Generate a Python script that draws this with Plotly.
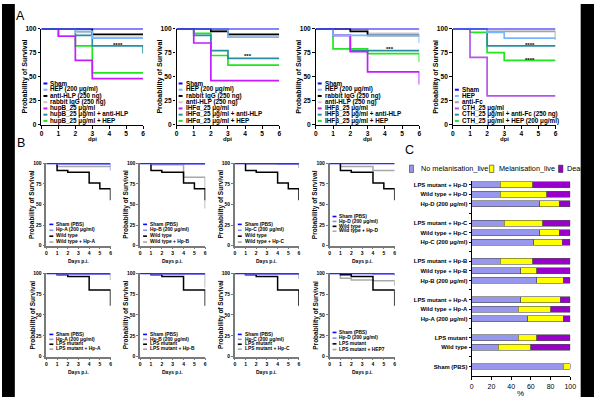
import plotly.graph_objects as go

W, H = 600, 400
FONT = "Liberation Sans, Arial, sans-serif"

# ================= DATA =================
# ---- Panel A : probability of survival (%) vs dpi (step curves) ----
A1_labels = ["Sham", "HEP (200 μg/ml)", "anti-HLP (250 ng)", "rabbit IgG (250 ng)",
             "hupB_25 μg/ml", "hupB_25 μg/ml + anti-HLP", "hupB_25 μg/ml + HEP"]
A1_days = [[0, 6], [0, 2, 3, 6], [0, 3, 6], [0, 2, 3, 6], [0, 1, 2, 3, 6], [0, 2, 3, 6, 6], [0, 1, 2, 3, 6]]
A1_surv = [[100, 100], [100, 97, 90, 90], [100, 94, 94], [100, 96, 91, 91],
           [100, 92, 67, 48, 48], [100, 93, 82, 82, 74], [100, 92, 82, 54, 54]]

A2_labels = ["Sham", "HEP (200 μg/ml)", "rabbit IgG (250 ng)", "anti-HLP (250 ng)",
             "IHFα_25 μg/ml", "IHFα_25 μg/ml + anti-HLP", "IHFα_25 μg/ml + HEP"]
A2_days = [[0, 6], [0, 3, 6], [0, 2, 3, 6], [0, 2, 3, 6], [0, 1, 2, 6], [0, 1, 2, 3, 6], [0, 1, 2, 3, 6]]
A2_surv = [[100, 100], [100, 91, 91], [100, 97, 94, 94], [100, 98, 92, 92],
           [100, 85, 46, 46], [100, 93, 77, 69, 69], [100, 95, 72, 62, 62]]

A3_labels = ["Sham", "HEP (200 μg/ml)", "rabbit IgG (250 ng)", "anti-HLP (250 ng)",
             "IHFβ_25 μg/ml", "IHFβ_25 μg/ml + anti-HLP", "IHFβ_25 μg/ml + HEP"]
A3_days = [[0, 6], [0, 1, 6, 6], [0, 2, 3, 6], [0, 2, 3, 6], [0, 1, 2, 3, 6, 6], [0, 1, 2, 6], [0, 1, 3, 6, 6]]
A3_surv = [[100, 100], [100, 93, 93, 85], [100, 97, 93, 93], [100, 99, 95, 95],
           [100, 93, 76, 55, 55, 42], [100, 93, 77, 77], [100, 79, 74, 74, 65]]

A4_labels = ["Sham", "HEP", "anti-Fc", "CTH_25 μg/ml",
             "CTH_25 μg/ml + anti-Fc (250 ng)", "CTH_25 μg/ml + HEP (200 μg/ml)"]
A4_days = [[0, 6], [0, 2, 3, 6], [0, 2, 6, 6], [0, 1, 2, 6], [0, 2, 6], [0, 1, 2, 3, 6]]
A4_surv = [[100, 100], [100, 96, 90, 90], [100, 97, 97, 88], [100, 70, 30, 30],
           [100, 82, 82], [100, 96, 75, 67, 67]]

A_star_text = [["****"], ["***"], ["***"], ["****", "****"]]
A_star_x = [[4.5], [4.2], [4.3], [4.5, 4.5]]
A_star_y = [[83], [72], [79], [82.5, 67.5]]

# ---- Panel B : probability of survival (%) vs days p.i. ----
B_sham_days = [0, 6]
B_sham_surv = [100, 100]
B_wt_days = [0, 1, 2, 4, 5, 6, 6]
B_wt_surv = [100, 91, 89, 76, 69, 69, 55]
B_lps_days = [0, 1, 2, 4, 6, 6]
B_lps_surv = [100, 98, 96, 80, 80, 61]

B_hp_days = [[0, 1, 6, 6], [0, 1, 6], [0, 4, 6], [0, 6],
             [0, 1, 6], [0, 1, 6], [0, 1, 6], [0, 4, 6, 6]]
B_hp_surv = [[100, 99, 99, 91], [100, 99, 99], [100, 99, 99], [100, 100],
             [100, 99, 99], [100, 99, 99], [100, 99, 99], [100, 99, 99, 97]]
B_combo_days = [[0, 1, 6], [0, 1, 4, 6, 6], [0, 1, 6, 6], [0, 1, 4, 6],
                [0, 1, 6, 6], [0, 1, 6, 6], [0, 1, 6, 6], [0, 1, 2, 4, 6, 6]]
B_combo_surv = [[100, 96, 96], [100, 98, 83, 83, 45], [100, 99, 99, 94], [100, 96, 91, 91],
                [100, 99, 99, 92], [100, 99, 99, 83], [100, 99, 99, 93], [100, 94, 92, 91, 91, 85]]
B_hp_labels = ["Hp-A (200 μg/ml)", "Hp-B (200 μg/ml)", "Hp-C (200 μg/ml)", "Hp-D (200 μg/ml)",
               "Hp-A (200 μg/ml)", "Hp-B (200 μg/ml)", "Hp-C (200 μg/ml)", "Hp-D (200 μg/ml)"]
B_strain_labels = ["Wild type"] * 4 + ["LPS mutant"] * 4
B_combo_labels = ["Wild type + Hp-A", "Wild type + Hp-B", "Wild type + Hp-C", "Wild type + Hp-D",
                  "LPS mutant + Hp-A", "LPS mutant + Hp-B", "LPS mutant + Hp-C", "LPS mutant + HEP7"]

# ---- Panel C : outcome percentages (stacked horizontal bars) ----
C_groups = [["LPS mutant + Hp-D", "Wild type + Hp-D", "Hp-D (200 μg/ml)"],
            ["LPS mutant + Hp-C", "Wild type + Hp-C", "Hp-C (200 μg/ml)"],
            ["LPS mutant + Hp-B", "Wild type + Hp-B", "Hp-B (200 μg/ml)"],
            ["LPS mutant + Hp-A", "Wild type + Hp-A", "Hp-A (200 μg/ml)"],
            ["LPS mutant", "Wild type"],
            ["Sham (PBS)"]]
C_no_melanisation_live = [29, 29, 69, 33, 69, 63, 29, 50, 66, 50, 47, 57, 47, 27, 93]
C_melanisation_live = [33, 47, 20, 39, 20, 29, 33, 16, 27, 40, 33, 36, 19, 33, 7]
C_dead = [38, 24, 11, 28, 11, 8, 38, 34, 7, 10, 20, 7, 34, 40, 0]
C_series_names = ["No melanisation_live", "Melanisation_live", "Dead"]

# ================= STYLE / LAYOUT =================
BLUE, LBLUE, BLACK = "#0a0aff", "#7ab6ff", "#000000"
LGRAY, GRAY = "#c9c9c9", "#a3a3a3"
PURPLE, PURPLE2, TEAL, GREEN = "#c21cff", "#b455e6", "#2a8ea2", "#1fe61f"
BHP, BGRAY = "#8c8cff", "#a8a8a8"
C_COLORS = ["#9797ee", "#ffff00", "#9a00cc"]

fig = go.Figure()
layout = dict(width=W, height=H, margin=dict(l=0, r=0, t=0, b=0), autosize=False,
              paper_bgcolor="white", plot_bgcolor="white", showlegend=False,
              barmode="stack", font=dict(family=FONT, color="black"))
annotations, shapes = [], []


def ax_ids(i):
    return ("x" if i == 1 else f"x{i}"), ("y" if i == 1 else f"y{i}")


def ax_keys(i):
    return ("xaxis" if i == 1 else f"xaxis{i}"), ("yaxis" if i == 1 else f"yaxis{i}")


def txt(x, y, text, size, weight="bold", xanchor="center", yanchor="middle", angle=0,
        xref="paper", yref="paper", color="black"):
    annotations.append(dict(x=x, y=y, xref=xref, yref=yref, text=text, showarrow=False,
                            xanchor=xanchor, yanchor=yanchor, textangle=angle,
                            font=dict(family=FONT, size=size, weight=weight, color=color)))


def surv_panel(i, xpx, ypx, days, surv, colors, widths, labels, tick_size, lw_axis, axcol,
               ticklen, leg_x, leg_y0, leg_dy, leg_size, sym_len, sym_w, ytitle_dx,
               ytitle_size, xtitle, xtitle_y, xtitle_size):
    xa, ya = ax_ids(i)
    xk, yk = ax_keys(i)
    for d, s, c, w in reversed(list(zip(days, surv, colors, widths))):
        fig.add_trace(go.Scatter(x=d, y=s, mode="lines", xaxis=xa, yaxis=ya,
                                 line=dict(color=c, width=w, shape="hv"),
                                 cliponaxis=False, hoverinfo="skip", showlegend=False))
    common = dict(showline=True, linecolor=axcol, linewidth=lw_axis, ticks="outside",
                  ticklen=ticklen, tickwidth=1, tickcolor=axcol, showgrid=False,
                  zeroline=False, fixedrange=True,
                  tickfont=dict(family=FONT, size=tick_size, weight="bold"))
    layout[xk] = dict(domain=[xpx[0] / W, xpx[1] / W], anchor=ya, range=[0, 6],
                      tickvals=[0, 1, 2, 3, 4, 5, 6], **common)
    layout[yk] = dict(domain=[1 - ypx[1] / H, 1 - ypx[0] / H], anchor=xa, range=[0, 100],
                      tickvals=[0, 25, 50, 75, 100], **common)
    for k, (lab, c) in enumerate(zip(labels, colors)):
        yy = leg_y0 + k * leg_dy
        shapes.append(dict(type="line", xref="paper", yref="paper",
                           x0=leg_x / W, x1=(leg_x + sym_len) / W,
                           y0=1 - (yy + 0.3) / H, y1=1 - (yy + 0.3) / H,
                           line=dict(color=c, width=sym_w)))
        txt((leg_x + sym_len + 1) / W, 1 - yy / H, lab, leg_size, xanchor="left")
    txt((xpx[0] - ytitle_dx) / W, 1 - (ypx[0] + ypx[1]) / 2 / H, "Probability of Survival",
        ytitle_size, angle=-90)
    txt((xpx[0] + xpx[1]) / 2 / W, 1 - xtitle_y / H, xtitle, xtitle_size)


# ---- Panel A ----
A_xpx = [(40, 143), (177, 281), (318, 423), (457, 561)]
A_ypx = (25, 123)
A_days = [A1_days, A2_days, A3_days, A4_days]
A_surv = [A1_surv, A2_surv, A3_surv, A4_surv]
A_labels = [A1_labels, A2_labels, A3_labels, A4_labels]
A_colors = [[BLUE, LBLUE, BLACK, LGRAY, PURPLE, TEAL, GREEN],
            [BLUE, LBLUE, BLACK, LGRAY, PURPLE, TEAL, GREEN],
            [BLUE, LBLUE, BLACK, LGRAY, PURPLE, TEAL, GREEN],
            [BLUE, LBLUE, GRAY, PURPLE2, TEAL, GREEN]]
for p in range(4):
    n = len(A_labels[p])
    surv_panel(p + 1, A_xpx[p], A_ypx, A_days[p], A_surv[p], A_colors[p], [1.7] * n,
               A_labels[p], 6.6, 1.4, "black", 2.5,
               A_xpx[p][0] + 2, 118.7 - (n - 1) * 6.35, 6.35, 6.3, 4, 2,
               17, 7, "dpi", 137, 6)
    xa, ya = ax_ids(p + 1)
    for t, sx, sy in zip(A_star_text[p], A_star_x[p], A_star_y[p]):
        txt(sx, sy, t, 6, xref=xa, yref=ya)

# ---- Panel B ----
B_xpx = [(45, 110), (140, 206), (236, 301), (332, 398)] * 2
B_ypx = [(162, 246)] * 4 + [(274, 359)] * 4
B_leg_first = [224, 224, 224, 216, 336, 336, 336, 334]
B_leg_step = [6, 6, 6, 5, 5, 5, 5, 5.8]
for p in range(8):
    strain_d = B_wt_days if p < 4 else B_lps_days
    strain_s = B_wt_surv if p < 4 else B_lps_surv
    days = [B_sham_days, B_hp_days[p], strain_d, B_combo_days[p]]
    surv = [B_sham_surv, B_hp_surv[p], strain_s, B_combo_surv[p]]
    labels = ["Sham (PBS)", B_hp_labels[p], B_strain_labels[p], B_combo_labels[p]]
    surv_panel(p + 5, B_xpx[p], B_ypx[p], days, surv, [BLUE, BHP, BLACK, BGRAY],
               [2.2, 1.5, 1.5, 1.5], labels, 5, 1.5, "#7a7a7a", 2,
               B_xpx[p][0] + 3, B_leg_first[p], B_leg_step[p], 4.9, 4, 1.6,
               14, 6.5, "Days p.i.", B_ypx[p][1] + 16, 5)

# ---- Panel C ----
C_categories, C_pos = [], []
slot = sum(len(g) for g in C_groups) + len(C_groups) - 2
for g in C_groups:
    for cat in g:
        C_categories.append(cat)
        C_pos.append(slot)
        slot -= 1
    slot -= 1
for vals, name, col in zip([C_no_melanisation_live, C_melanisation_live, C_dead], C_series_names, C_COLORS):
    fig.add_trace(go.Bar(x=vals, y=C_pos, orientation="h", name=name, width=0.62,
                         marker=dict(color=col, line=dict(color="#505050", width=0.6)),
                         xaxis="x13", yaxis="y13", hoverinfo="skip", showlegend=False))
tv = list(range(0, max(C_pos) + 1))
tt = [C_categories[C_pos.index(v)] if v in C_pos else "" for v in tv]
layout["xaxis13"] = dict(domain=[476 / W, 576 / W], anchor="y13", range=[0, 100],
                         tickvals=[0, 20, 40, 60, 80, 100], showline=True, linecolor="black",
                         linewidth=1.2, ticks="outside", ticklen=3, tickcolor="black",
                         showgrid=False, zeroline=False, fixedrange=True,
                         tickfont=dict(family=FONT, size=7))
layout["yaxis13"] = dict(domain=[1 - 379 / H, 1 - 180 / H], anchor="x13", range=[-1.03, 19.41],
                         tickvals=tv, ticktext=tt, showline=True, linecolor="black",
                         linewidth=1.2, ticks="outside", ticklen=2, tickcolor="black",
                         showgrid=False, zeroline=False, fixedrange=True,
                         tickfont=dict(family=FONT, size=5.9, weight="bold"))
txt(526 / W, 1 - 396 / H, "%", 8, weight="normal")
# legend of panel C
leg_boxes = [(413, 417), (494, 498.5), (564, 568.5)]
leg_text_x = [422.5, 502, 570.5]
for (bx0, bx1), tx, name, col in zip(leg_boxes, leg_text_x, C_series_names, C_COLORS):
    shapes.append(dict(type="rect", xref="paper", yref="paper", x0=bx0 / W, x1=bx1 / W,
                       y0=1 - 171.5 / H, y1=1 - 164 / H, fillcolor=col,
                       line=dict(color="#333333", width=0.6)))
    txt(tx / W, 1 - 167.8 / H, name, 7.3, weight="normal", xanchor="left")

# panel letters
txt(18.5 / W, 1 - 12 / H, "A", 12.5, weight="normal")
txt(19.5 / W, 1 - 141 / H, "B", 12.5, weight="normal")
txt(413.5 / W, 1 - 148.5 / H, "C", 12.5, weight="normal")

# black side bands of the original image
shapes.append(dict(type="rect", xref="paper", yref="paper", x0=0, x1=13 / W, y0=0, y1=1,
                   fillcolor="black", line=dict(width=0), layer="below"))
shapes.append(dict(type="rect", xref="paper", yref="paper", x0=586.5 / W, x1=1, y0=0, y1=1,
                   fillcolor="black", line=dict(width=0), layer="below"))

layout["annotations"] = annotations
layout["shapes"] = shapes
fig.update_layout(**layout)
fig.write_html("out.html")
